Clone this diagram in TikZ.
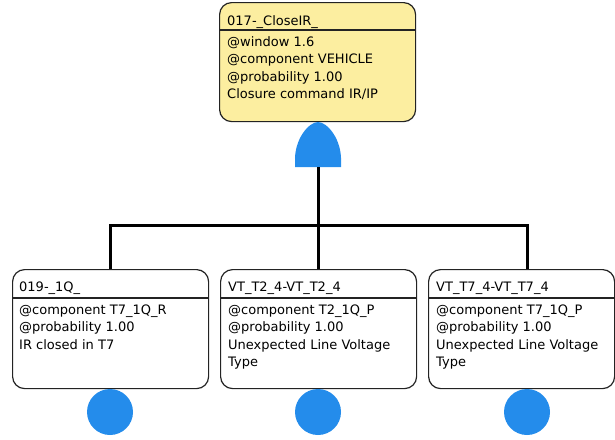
\documentclass[tikz,border=0pt]{standalone}
\usepackage{fontspec}
\setmainfont{DejaVu Sans}
\definecolor{gateblue}{RGB}{36,140,235}
\definecolor{evyellow}{RGB}{252,238,160}
\definecolor{boxline}{RGB}{35,35,35}
\begin{document}
\begin{tikzpicture}[x=1pt,y=-1pt,
  evbox/.style={draw=boxline, line width=1.2pt, rounded corners=12pt, minimum height=119pt, inner sep=0pt, anchor=north west, fill=white},
  sepline/.style={draw=boxline, line width=1.2pt},
  txt/.style={anchor=base west, inner sep=0pt, font=\fontsize{13}{15}\selectfont},
  wire/.style={line width=3pt, black},
  basic/.style={circle, fill=gateblue, minimum size=46pt, inner sep=0pt},
]
\useasboundingbox (0,0) rectangle (615,439);

% top event
\node[evbox, fill=evyellow, minimum width=196pt] (top) at (219,2) {};
\draw[sepline] (top.west |- 0,30) -- (top.east |- 0,30);
\node[txt] (t0) at (227,25.5) {017-\_CloseIR\_};
\node[txt] (t1) at (227,46) {@window 1.6};
\node[txt] (t2) at (227,63.5) {@component VEHICLE};
\node[txt] (t3) at (227,81) {@probability 1.00};
\node[txt] (t4) at (227,98.5) {Closure command IR/IP};

% AND gate
\coordinate (gtop) at (318,122);
\coordinate (gbot) at (318,167);
\fill[gateblue] (295,167) -- (295,162) .. controls (294,139) and (309,122) .. (gtop)
  .. controls (327,122) and (342,139) .. (341,162) -- (341,167) -- cycle;

% bottom events
\node[evbox, minimum width=196pt] (b1) at (12,269) {};
\node[evbox, minimum width=196pt] (b2) at (220,269) {};
\node[evbox, minimum width=186pt] (b3) at (428,269) {};
\foreach \b in {b1,b2,b3}{
  \draw[sepline] (\b.west |- 0,298) -- (\b.east |- 0,298);
}
\node[txt] (a0) at (19,291) {019-\_1Q\_};
\node[txt] (a1) at (19,314) {@component T7\_1Q\_R};
\node[txt] (a2) at (19,331.5) {@probability 1.00};
\node[txt] (a3) at (19,349) {IR closed in T7};

\node[txt] (m0) at (228,291) {VT\_T2\_4-VT\_T2\_4};
\node[txt] (m1) at (228,314) {@component T2\_1Q\_P};
\node[txt] (m2) at (228,331.5) {@probability 1.00};
\node[txt] (m3) at (228,349) {Unexpected Line Voltage};
\node[txt] (m4) at (228,366.5) {Type};

\node[txt] (r0) at (436,291) {VT\_T7\_4-VT\_T7\_4};
\node[txt] (r1) at (436,314) {@component T7\_1Q\_P};
\node[txt] (r2) at (436,331.5) {@probability 1.00};
\node[txt] (r3) at (436,349) {Unexpected Line Voltage};
\node[txt] (r4) at (436,366.5) {Type};

% basic events
\node[basic] (c1) at (110,412) {};
\node[basic] (c2) at (318,412) {};
\node[basic] (c3) at (527,412) {};

% connectors
\coordinate (bar) at (318,225);
\draw[wire] (gbot) -- (bar);
\draw[wire] (b1.north) -- (b1.north |- bar) -- (c3 |- bar) -- (c3 |- b3.north);
\draw[wire] (b2.north) -- (b2.north |- bar);
\end{tikzpicture}
\end{document}
